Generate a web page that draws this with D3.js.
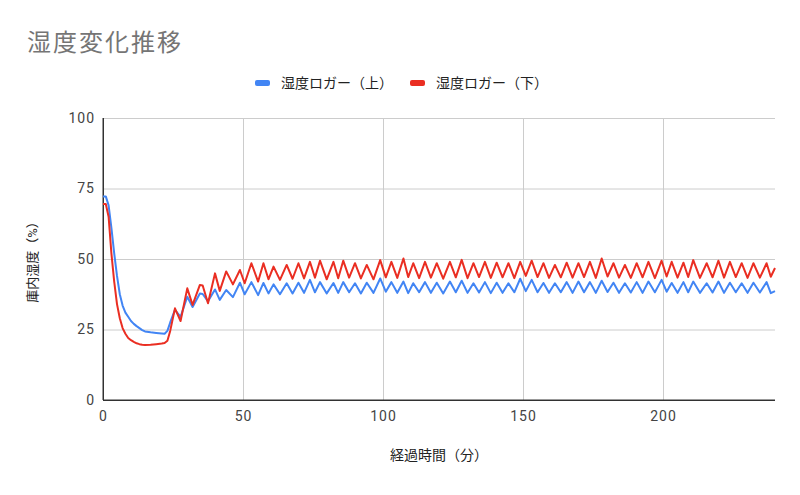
<!DOCTYPE html>
<html>
<head>
<meta charset="utf-8">
<script src="https://cdn.jsdelivr.net/npm/d3@7"></script>
<style>
  body { margin: 0; background: #fff; }
  text { font-family: Roboto, "Noto Sans CJK JP", sans-serif; }
</style>
</head>
<body>
<div id="chart"></div>
<script>
// elapsed minutes (shared x values for both loggers)
var minutes = [0, 1, 2, 3, 4, 5, 6, 7, 8, 9, 10, 11, 12, 13, 14, 15, 17, 19, 21, 22, 23, 24,
  25.7, 27.7, 30.1, 32, 34.6, 35.6, 37.5, 40, 41.7, 44, 46.4, 48.9, 50.6, 53, 55.4,
  57.3, 59.1, 60.9, 63.2, 65.6, 67.7, 69.8, 71.8, 73.9, 75.7, 77.5, 79.9, 82.3, 84.0,
  85.8, 87.9, 90, 92.1, 94.2, 96.6, 99, 101, 103, 105.1, 107.3, 109, 110.8, 112.9,
  115, 117.1, 119.2, 121.5, 123.9, 126, 128.1, 130.2, 132.3, 134.3, 136.4, 138.5,
  140.6, 142.7, 144.8, 146.9, 149, 151, 153.1, 155.2, 157.3, 159.3, 161.4, 163.5,
  165.6, 167.7, 169.8, 171.8, 173.9, 176, 178.1, 180.2, 182.3, 184.3, 186.4, 188.5,
  190.6, 192.7, 194.8, 197.1, 199.5, 201.3, 203.1, 205.2, 207.3, 209, 210.8, 213.2,
  215.6, 217.7, 219.8, 221.8, 223.9, 226, 228.1, 230.2, 232.3, 234.6, 237, 238.5, 240];

// 湿度ロガー（上）
var upper = [72.2, 72.2, 69.0, 61.0, 52.0, 44.0, 37.5, 33.5, 31.0, 29.5, 28.0, 27.0, 26.2, 25.5, 24.8, 24.3, 24.0, 23.8, 23.6, 23.5, 24.5, 27.5,
  32.0, 29.5, 36.6, 33.0, 37.8, 37.6, 35.0, 39.2, 35.5, 39.0, 36.5, 41.6, 37.5, 41.8, 37.2,
  41.5, 37.8, 41.0, 37.5, 41.4, 37.8, 41.6, 38.0, 42.6, 38.2, 41.8, 37.8, 41.5, 38.0,
  41.8, 38.2, 41.4, 37.8, 41.6, 38.0, 43.1, 38.4, 41.8, 38.0, 42.0, 37.9, 41.4, 38.2,
  41.8, 38.0, 41.6, 37.8, 42.0, 38.2, 42.3, 38.0, 41.4, 38.1, 41.8, 37.9,
  41.6, 38.0, 41.4, 38.2, 43.0, 38.6, 42.6, 38.2, 41.5, 38.0, 41.4, 38.2,
  41.8, 38.0, 42.0, 38.2, 41.8, 38.0, 42.3, 38.3, 41.6, 38.0, 41.4, 38.1,
  41.8, 38.0, 42.0, 38.2, 42.6, 38.4, 41.5, 38.0, 41.8, 38.2, 42.0, 38.0,
  41.4, 38.1, 42.0, 38.0, 41.6, 38.2, 41.4, 38.0, 41.6, 38.1, 41.8, 37.9, 38.6];

// 湿度ロガー（下）
var lower = [69.5, 69.5, 65.0, 52.0, 42.0, 34.0, 29.0, 25.5, 23.5, 22.0, 21.2, 20.6, 20.1, 19.8, 19.6, 19.5, 19.6, 19.8, 20.0, 20.2, 21.0, 24.5,
  32.5, 28.0, 39.6, 33.7, 40.8, 40.6, 34.3, 44.9, 38.7, 45.6, 41.0, 46.1, 41.4, 48.5, 42.0,
  48.5, 42.8, 47.3, 42.6, 47.9, 43.0, 48.5, 43.1, 49.0, 43.4, 49.4, 42.8, 49.0, 43.2,
  49.4, 43.4, 48.5, 43.1, 47.9, 42.8, 49.6, 43.5, 49.0, 43.3, 50.2, 43.6, 48.5, 43.2,
  49.0, 43.4, 48.5, 43.0, 49.0, 43.5, 49.7, 43.2, 48.5, 43.6, 49.0, 43.3,
  48.7, 43.5, 48.5, 43.2, 49.0, 44.0, 49.4, 43.6, 48.5, 43.3, 47.9, 43.5,
  48.7, 43.4, 48.5, 43.6, 49.0, 43.3, 50.2, 43.8, 48.5, 43.4, 47.9, 43.3,
  48.5, 43.5, 49.0, 43.2, 49.4, 43.8, 49.0, 43.4, 48.7, 43.6, 49.6, 43.3,
  48.5, 43.5, 49.4, 43.4, 49.0, 43.6, 48.5, 43.3, 48.5, 43.4, 48.5, 43.7, 46.8];

var seriesNames = ["湿度ロガー（上）", "湿度ロガー（下）"];
var seriesColors = ["#4285f4", "#ea2e22"];
var xTicks = [0, 50, 100, 150, 200];
var yTicks = [0, 25, 50, 75, 100];

var margin = {top: 118, right: 25, bottom: 95, left: 103},
    width = 800 - margin.left - margin.right,
    height = 495 - margin.top - margin.bottom;

var svg = d3.select("#chart").append("svg")
    .attr("width", 800)
    .attr("height", 495);

svg.append("rect").attr("width", 800).attr("height", 495).attr("fill", "#fff");

var g = svg.append("g")
    .attr("transform", "translate(" + margin.left + "," + margin.top + ")");

var x = d3.scaleLinear().domain([0, 240]).range([0, width]);
var y = d3.scaleLinear().domain([0, 100]).range([height, 0]);

// grid + y labels
var yAxis = g.append("g")
    .call(d3.axisLeft(y).tickValues(yTicks).tickSize(-width).tickPadding(8));
yAxis.select(".domain").remove();
yAxis.selectAll("line").attr("stroke", function(d) { return d === 0 ? "#333" : "#ccc"; });
yAxis.selectAll("text").attr("fill", "#444").style("font-size", "14px").style("letter-spacing", "1px");

var xAxis = g.append("g")
    .attr("transform", "translate(0," + height + ")")
    .call(d3.axisBottom(x).tickValues(xTicks).tickSize(-height).tickPadding(11));
xAxis.select(".domain").remove();
xAxis.selectAll("line").attr("stroke", function(d) { return d === 0 ? "#333" : "#ccc"; });
xAxis.selectAll("text").attr("fill", "#444").style("font-size", "14px").style("letter-spacing", "1px");

// keep dark baseline on top
g.append("line").attr("x1", 0).attr("x2", width).attr("y1", y(0)).attr("y2", y(0)).attr("stroke", "#333");
g.append("line").attr("x1", x(0)).attr("x2", x(0)).attr("y1", 0).attr("y2", height).attr("stroke", "#333");

var rowsUpper = minutes.map(function(t, i) { return {t: t, v: upper[i]}; });
var rowsLower = minutes.map(function(t, i) { return {t: t, v: lower[i]}; });

var line = d3.line()
    .x(function(d) { return x(d.t); })
    .y(function(d) { return y(d.v); });

[rowsUpper, rowsLower].forEach(function(rows, i) {
  g.append("path")
      .datum(rows)
      .attr("fill", "none")
      .attr("stroke", seriesColors[i])
      .attr("stroke-width", 2)
      .attr("stroke-linejoin", "round")
      .attr("d", line);
});

// title
svg.append("text")
    .attr("x", 27).attr("y", 51)
    .attr("fill", "#757575")
    .style("font-size", "24px")
    .style("letter-spacing", "2px")
    .text("湿度変化推移");

// legend
var legendX = [255, 410];
seriesNames.forEach(function(name, i) {
  svg.append("rect")
      .attr("x", legendX[i]).attr("y", 80)
      .attr("width", 15).attr("height", 6).attr("rx", 2)
      .attr("fill", seriesColors[i]);
  svg.append("text")
      .attr("x", legendX[i] + 26).attr("y", 88)
      .attr("fill", "#222")
      .style("font-size", "14px")
      .text(name);
});

// axis titles
svg.append("text")
    .attr("x", margin.left + width / 2).attr("y", 460)
    .attr("text-anchor", "middle")
    .attr("fill", "#222")
    .style("font-size", "14px")
    .text("経過時間（分）");

svg.append("text")
    .attr("transform", "translate(37," + (margin.top + height / 2) + ") rotate(-90)")
    .attr("text-anchor", "middle")
    .attr("fill", "#222")
    .style("font-size", "13px")
    .text("庫内湿度（%）");
</script>
</body>
</html>
